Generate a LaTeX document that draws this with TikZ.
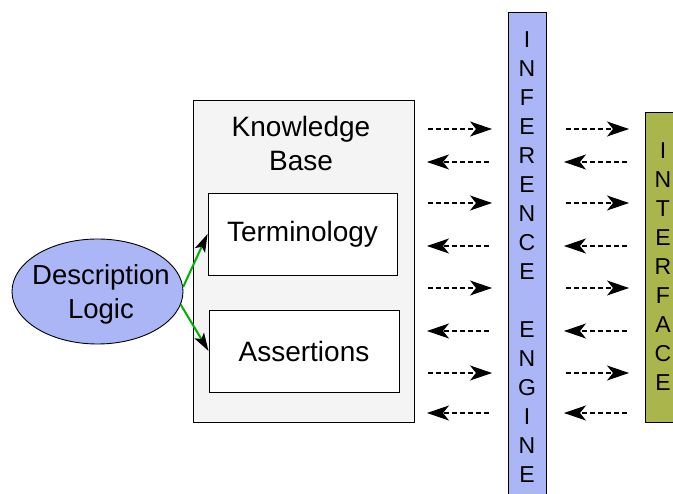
\documentclass[tikz,border=0pt]{standalone}
\usepackage{fontspec}
\setmainfont{Liberation Sans}
\usetikzlibrary{shapes.geometric,arrows.meta}
\definecolor{engineblue}{RGB}{170,182,245}
\definecolor{faceolive}{RGB}{170,182,76}
\definecolor{kbgray}{RGB}{244,244,244}
\definecolor{linkgreen}{RGB}{0,175,0}
\begin{document}
\begin{tikzpicture}[x=1pt,y=-1pt,
  box/.style={draw,line width=0.9pt,inner sep=0pt},
  label/.style={font=\fontsize{28}{34}\selectfont,align=center},
  bar/.style={box,fill=engineblue,minimum width=38pt,align=center,font=\fontsize{23}{29}\selectfont},
  flow/.style={line width=1.1pt,dash pattern=on 5pt off 3pt,-{Stealth[length=22pt,width=15pt,inset=6pt]}},
  link/.style={linkgreen,line width=2pt,-{Stealth[black,length=18pt,width=11pt,inset=4pt]}}]
\useasboundingbox (0,0) rectangle (673,494);

% Knowledge base with its two parts
\node[box,fill=kbgray,minimum width=221pt,minimum height=322pt] (kb) at (303.5,261) {};
\node[label] (kbtitle) at (301,143) {Knowledge\\Base};
\node[box,fill=white,minimum width=189pt,minimum height=82pt,label] (term) at (302.5,234) {Terminology};
\node[box,fill=white,minimum width=190pt,minimum height=82pt,label] (assert) at (304,351) {Assertions};

% Description logic
\node[box,ellipse,fill=engineblue,minimum width=171pt,minimum height=105pt] (dl) at (97.5,291.5) {};
\node[label,font=\fontsize{27.5}{34}\selectfont] (dltext) at (101,294) {Description\\Logic};
\draw[link] (dl.3) -- (term.west);
\draw[link] (dl.-9) -- (assert.west);

% Inference engine and interface
\node[bar,anchor=north,minimum height=490pt] (engine) at (527,12)
  {I\\N\\F\\E\\R\\E\\N\\C\\E\\\mbox{}\\E\\N\\G\\I\\N\\E};
\node[bar,fill=faceolive,minimum width=36pt,minimum height=310pt] (face) at (663,267)
  {I\\N\\T\\E\\R\\F\\A\\C\\E};

% Queries and answers
\foreach \y [count=\i] in {129,203,288,373} {
  \coordinate (qa\i) at (428,\y);
  \coordinate (qb\i) at (492,\y);
  \coordinate (qc\i) at (566,\y);
  \coordinate (qd\i) at (629,\y);
  \draw[flow] (qa\i) -- (qb\i);
  \draw[flow] (qc\i) -- (qd\i);
}
\foreach \y [count=\i] in {162,246,331,413} {
  \coordinate (ra\i) at (489,\y);
  \coordinate (rb\i) at (427,\y);
  \coordinate (rc\i) at (627,\y);
  \coordinate (rd\i) at (564,\y);
  \draw[flow] (ra\i) -- (rb\i);
  \draw[flow] (rc\i) -- (rd\i);
}
\end{tikzpicture}
\end{document}
